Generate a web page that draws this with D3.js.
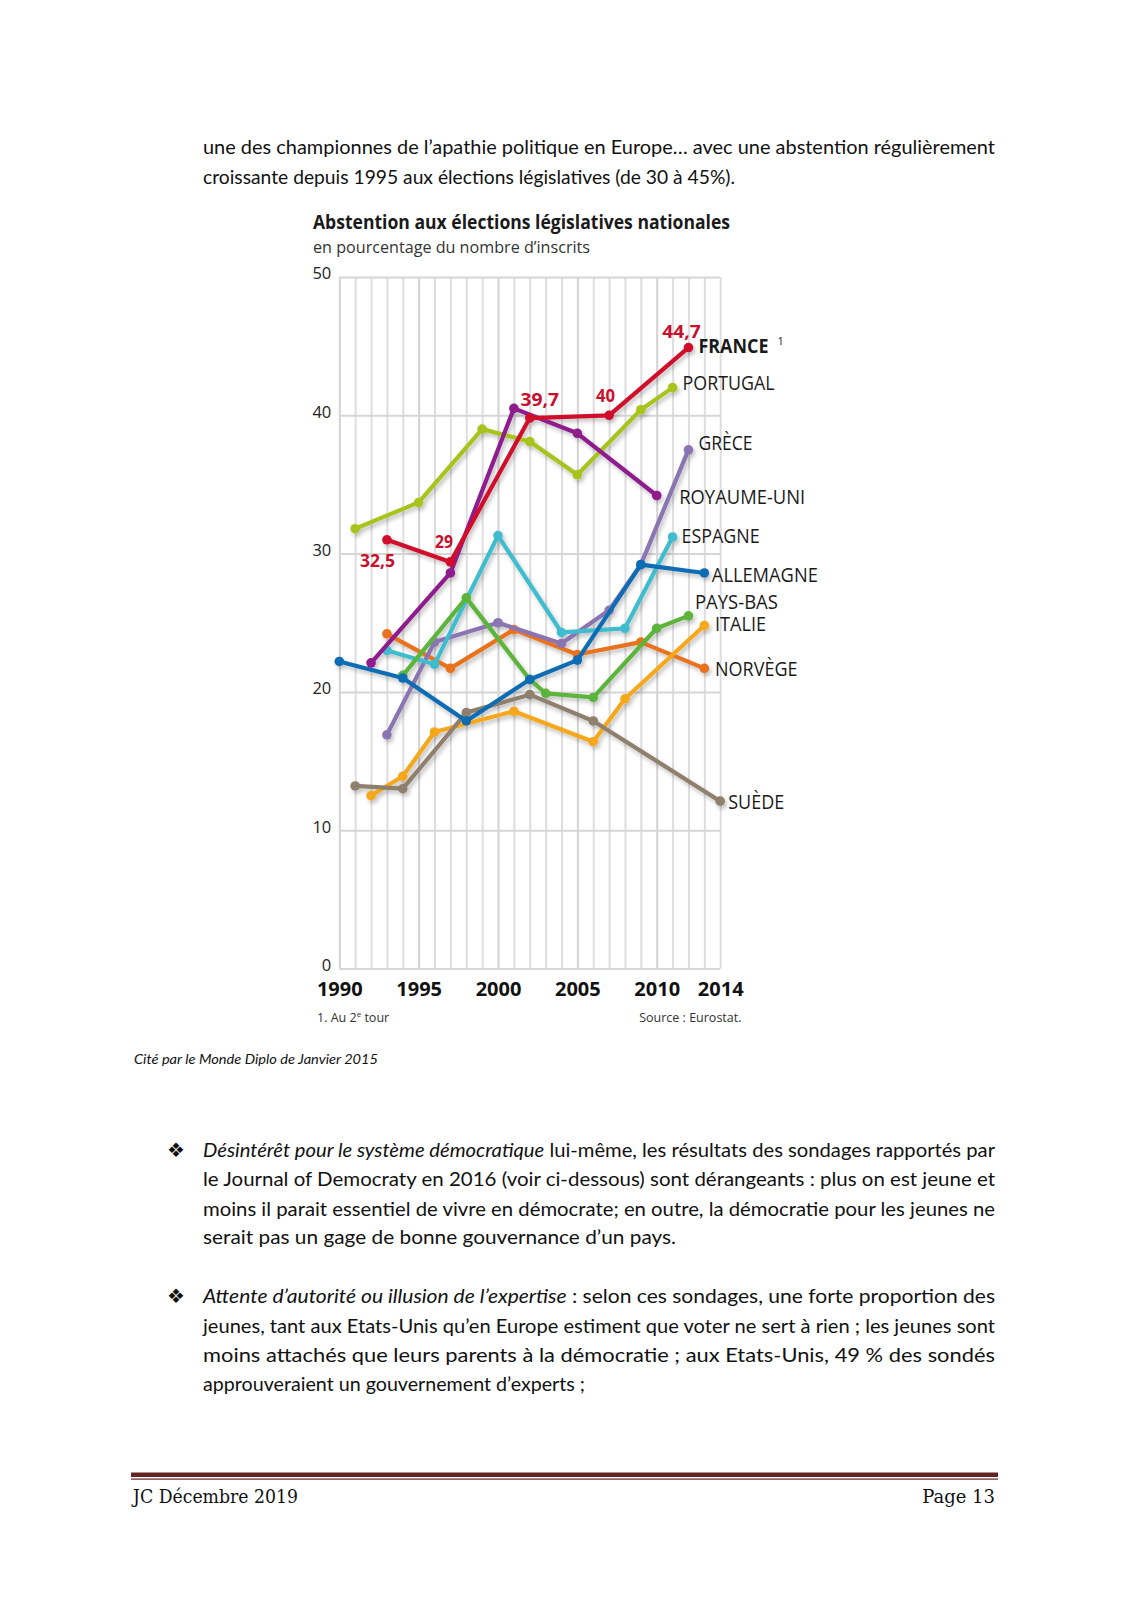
<!DOCTYPE html>
<html lang="fr">
<head>
<meta charset="utf-8">
<script src="https://cdn.jsdelivr.net/npm/d3@7"></script>
<style>
  html, body { margin: 0; padding: 0; background: #fff; }
  svg { display: block; }
</style>
</head>
<body>
<svg id="page" width="1131" height="1600"></svg>
<script>
// ---------------- DATA ----------------
const countries = ["NORVÈGE", "GRÈCE", "ESPAGNE", "PORTUGAL", "ITALIE", "SUÈDE", "PAYS-BAS", "ALLEMAGNE", "ROYAUME-UNI", "FRANCE"];

const franceYears   = [1993, 1997, 2002, 2007, 2012];
const franceValues  = [31.0, 29.4, 39.8, 40.0, 44.9];
const franceLabels  = ["32,5", "29", "39,7", "40", "44,7"];

const portugalYears  = [1991, 1995, 1999, 2002, 2005, 2009, 2011];
const portugalValues = [31.8, 33.7, 39.0, 38.1, 35.7, 40.4, 42.0];

const ukYears  = [1992, 1997, 2001, 2005, 2010];
const ukValues = [22.1, 28.6, 40.5, 38.7, 34.2];

const greeceYears  = [1993, 1996, 2000, 2004, 2007, 2009, 2012];
const greeceValues = [16.9, 23.6, 25.0, 23.5, 25.9, 29.2, 37.5];

const spainYears  = [1993, 1996, 2000, 2004, 2008, 2011];
const spainValues = [23.0, 22.0, 31.3, 24.3, 24.6, 31.2];

const germanyYears  = [1990, 1994, 1998, 2002, 2005, 2009, 2013];
const germanyValues = [22.2, 21.0, 17.9, 20.9, 22.3, 29.2, 28.6];

const netherlandsYears  = [1994, 1998, 2002, 2003, 2006, 2010, 2012];
const netherlandsValues = [21.2, 26.8, 20.9, 19.9, 19.6, 24.6, 25.5];

const italyYears  = [1992, 1994, 1996, 2001, 2006, 2008, 2013];
const italyValues = [12.5, 13.9, 17.1, 18.6, 16.4, 19.5, 24.8];

const norwayYears  = [1993, 1997, 2001, 2005, 2009, 2013];
const norwayValues = [24.2, 21.7, 24.5, 22.7, 23.6, 21.7];

const swedenYears  = [1991, 1994, 1998, 2002, 2006, 2014];
const swedenValues = [13.2, 13.0, 18.5, 19.8, 17.9, 12.1];

const xTickLabels = [1990, 1995, 2000, 2005, 2010, 2014];
const yTickLabels = [0, 10, 20, 30, 40, 50];

// ---------------- STYLE / LAYOUT ----------------
const seriesYears = {
  "FRANCE": franceYears, "PORTUGAL": portugalYears, "ROYAUME-UNI": ukYears, "GRÈCE": greeceYears,
  "ESPAGNE": spainYears, "ALLEMAGNE": germanyYears, "PAYS-BAS": netherlandsYears, "ITALIE": italyYears,
  "NORVÈGE": norwayYears, "SUÈDE": swedenYears
};
const seriesValues = {
  "FRANCE": franceValues, "PORTUGAL": portugalValues, "ROYAUME-UNI": ukValues, "GRÈCE": greeceValues,
  "ESPAGNE": spainValues, "ALLEMAGNE": germanyValues, "PAYS-BAS": netherlandsValues, "ITALIE": italyValues,
  "NORVÈGE": norwayValues, "SUÈDE": swedenValues
};
const colors = {
  "FRANCE": "#d0112b", "PORTUGAL": "#a8c41f", "ROYAUME-UNI": "#8e1b8c", "GRÈCE": "#8a74b2",
  "ESPAGNE": "#40bccf", "ALLEMAGNE": "#0b6cb3", "PAYS-BAS": "#5db43c", "ITALIE": "#f6a81c",
  "NORVÈGE": "#e8731f", "SUÈDE": "#8f7f6d"
};
// label placement relative to the last point: [dx, dy(baseline), width]
const labelPos = {
  "FRANCE": [10, 5, 70], "PORTUGAL": [10, 2.5, 92], "GRÈCE": [10, 0, 54], "ROYAUME-UNI": [22.5, 8.5, 126],
  "ESPAGNE": [9, 6, 78], "ALLEMAGNE": [7.5, 8.7, 106], "PAYS-BAS": [6.5, -6.5, 83], "ITALIE": [10.7, 5.5, 51],
  "NORVÈGE": [10.7, 7.6, 82.5], "SUÈDE": [8, 8, 56]
};
// value labels offsets for France: [dx(center), dy(baseline), width]
const franceLabelPos = [[-9.4, 27, 35], [-6.4, -14, 18], [10, -12, 38.5], [-3.6, -13, 19], [-7, -10, 38.5]];

const svg = d3.select("#page");
svg.append("rect").attr("width", 1131).attr("height", 1600).attr("fill", "#fff");

const defs = svg.append("defs");
const f = defs.append("filter").attr("id", "shadow").attr("x", "-10%").attr("y", "-10%").attr("width", "130%").attr("height", "130%");
f.append("feDropShadow").attr("dx", 2).attr("dy", 3).attr("stdDeviation", 2.2)
  .attr("flood-color", "#000").attr("flood-opacity", 0.25);

// ---------------- BODY TEXT ----------------
const bodyFont = "Lato, 'Open Sans', sans-serif";
function textLine(x, y, width, segments, size) {
  const t = svg.append("text").attr("x", x).attr("y", y)
    .attr("font-family", bodyFont).attr("font-size", size || 19).attr("fill", "#111");
  if (width) t.attr("textLength", width).attr("lengthAdjust", "spacingAndGlyphs");
  segments.forEach(s => {
    const ts = t.append("tspan").text(s[0]);
    if (s[1]) ts.attr("font-style", "italic");
  });
  return t;
}
textLine(203, 154, 792, [["une des championnes de l’apathie politique en Europe… avec une abstention régulièrement"]]);
textLine(203, 183.5, 532, [["croissante depuis 1995 aux élections législatives (de 30 à 45%)."]]);

svg.append("text").attr("x", 134).attr("y", 1064).attr("font-family", bodyFont).attr("font-size", 14)
  .attr("font-style", "italic").attr("fill", "#111").attr("textLength", 244).attr("lengthAdjust", "spacingAndGlyphs")
  .text("Cité par le Monde Diplo de Janvier 2015");

function bullet(y) {
  svg.append("text").attr("x", 176).attr("y", y).attr("text-anchor", "middle")
    .attr("font-family", "'DejaVu Sans', sans-serif").attr("font-size", 20).attr("fill", "#111").text("❖");
}
bullet(1157);
textLine(203, 1156.5, 792, [["Désintérêt pour le système démocratique", true], [" lui-même, les résultats des sondages rapportés par"]]);
textLine(203, 1186, 792, [["le Journal of Democraty en 2016 (voir ci-dessous) sont dérangeants : plus on est jeune et"]]);
textLine(203, 1215.5, 792, [["moins il parait essentiel de vivre en démocrate; en outre, la démocratie pour les jeunes ne"]]);
textLine(203, 1244, 473, [["serait pas un gage de bonne gouvernance d’un pays."]]);

bullet(1303);
textLine(203, 1302.5, 792, [["Attente d’autorité ou illusion de l’expertise", true], [" : selon ces sondages, une forte proportion des"]]);
textLine(203, 1333, 792, [["jeunes, tant aux Etats-Unis qu’en Europe estiment que voter ne sert à rien ; les jeunes sont"]]);
textLine(203, 1361.5, 792, [["moins attachés que leurs parents à la démocratie ; aux Etats-Unis, 49 % des sondés"]]);
textLine(203, 1391, 382, [["approuveraient un gouvernement d’experts ;"]]);

// footer
svg.append("rect").attr("x", 131).attr("y", 1472.5).attr("width", 867).attr("height", 4.5).attr("fill", "#622423");
svg.append("rect").attr("x", 131).attr("y", 1478.5).attr("width", 867).attr("height", 1.2).attr("fill", "#622423");
svg.append("text").attr("x", 133).attr("y", 1503).attr("font-family", "'DejaVu Serif', 'Liberation Serif', serif")
  .attr("font-size", 18).attr("fill", "#111").attr("textLength", 165).attr("lengthAdjust", "spacingAndGlyphs").text("JC Décembre 2019");
svg.append("text").attr("x", 995).attr("y", 1503).attr("text-anchor", "end").attr("font-family", "'DejaVu Serif', 'Liberation Serif', serif")
  .attr("font-size", 18).attr("fill", "#111").text("Page 13");

// ---------------- CHART ----------------
const chartFont = "'Open Sans', 'Noto Sans', sans-serif";
const x = d3.scaleLinear().domain([1990, 2014]).range([339.3, 720.2]);
const y = d3.scaleLinear().domain([0, 50]).range([968.5, 277]);

// title
svg.append("text").attr("x", 313).attr("y", 229).attr("font-family", chartFont).attr("font-weight", 700)
  .attr("font-size", 20).attr("fill", "#1a1a1a").attr("textLength", 417).attr("lengthAdjust", "spacingAndGlyphs")
  .text("Abstention aux élections législatives nationales");
svg.append("text").attr("x", 313).attr("y", 253).attr("font-family", chartFont)
  .attr("font-size", 17).attr("fill", "#333").attr("textLength", 277).attr("lengthAdjust", "spacingAndGlyphs")
  .text("en pourcentage du nombre d’inscrits");

// grid: vertical lines (every year)
const allYears = d3.range(1990, 2015);
const gx = svg.append("g").attr("transform", `translate(0,${y(0)})`)
  .call(d3.axisBottom(x).tickValues(allYears).tickSize(-(y(0) - y(50))).tickFormat(""));
gx.select(".domain").remove();
gx.selectAll(".tick line").attr("stroke", d => d % 5 === 0 ? "#d2d2d2" : "#dedede").attr("stroke-width", 2);

// grid: horizontal lines + y labels
const gy = svg.append("g").attr("transform", `translate(${x(1990)},0)`)
  .call(d3.axisLeft(y).tickValues(yTickLabels).tickSize(-(x(2014) - x(1990))).tickPadding(8));
gy.select(".domain").remove();
gy.selectAll(".tick line").attr("stroke", "#d6d6d6").attr("stroke-width", 2);
gy.selectAll(".tick text").attr("font-family", chartFont).attr("font-size", 16.5).attr("fill", "#222")
  .attr("dy", "0.12em");

// x labels
const xa = svg.append("g").attr("transform", `translate(0,${y(0)})`)
  .call(d3.axisBottom(x).tickValues(xTickLabels).tickSize(0).tickPadding(12).tickFormat(d3.format("d")));
xa.select(".domain").remove();
xa.selectAll(".tick text").attr("font-family", chartFont).attr("font-weight", 700).attr("font-size", 20)
  .attr("fill", "#111").attr("dy", "0.78em");

// footnotes
const fn = svg.append("text").attr("x", 317).attr("y", 1022).attr("font-family", chartFont).attr("font-size", 12.5).attr("fill", "#333");
fn.append("tspan").text("1. Au 2");
fn.append("tspan").attr("font-size", 8).attr("dy", -5).text("e");
fn.append("tspan").attr("dy", 5).text(" tour");
svg.append("text").attr("x", 741.5).attr("y", 1022).attr("text-anchor", "end").attr("font-family", chartFont)
  .attr("font-size", 12.5).attr("fill", "#333").text("Source : Eurostat.");

// series
const line = d3.line().x(d => x(d[0])).y(d => y(d[1]));
const lg = svg.append("g").attr("filter", "url(#shadow)");
countries.forEach(c => {
  const pts = seriesYears[c].map((yr, i) => [yr, seriesValues[c][i]]);
  const g = lg.append("g");
  g.append("path").datum(pts).attr("d", line).attr("fill", "none").attr("stroke", colors[c])
    .attr("stroke-width", 4.2).attr("stroke-linejoin", "round").attr("stroke-linecap", "round");
  g.selectAll("circle").data(pts).join("circle")
    .attr("cx", d => x(d[0])).attr("cy", d => y(d[1])).attr("r", 4.8).attr("fill", colors[c]);
});

// country labels
countries.forEach(c => {
  const yrs = seriesYears[c], vals = seriesValues[c];
  const lx = x(yrs[yrs.length - 1]), ly = y(vals[vals.length - 1]);
  const p = labelPos[c];
  svg.append("text").attr("x", lx + p[0]).attr("y", ly + p[1]).attr("font-family", chartFont)
    .attr("font-size", 19.5).attr("fill", "#1a1a1a").attr("font-weight", c === "FRANCE" ? 700 : 400)
    .attr("textLength", p[2]).attr("lengthAdjust", "spacingAndGlyphs").text(c);
  if (c === "FRANCE") {
    svg.append("text").attr("x", lx + p[0] + p[2] + 9).attr("y", ly + p[1] - 8).attr("font-family", chartFont)
      .attr("font-size", 11).attr("fill", "#1a1a1a").text("1");
  }
});

// France value labels
svg.append("g").selectAll("text").data(franceYears.map((yr, i) => [yr, franceValues[i], franceLabels[i], franceLabelPos[i]]))
  .join("text")
  .attr("x", d => x(d[0]) + d[3][0]).attr("y", d => y(d[1]) + d[3][1])
  .attr("text-anchor", "middle").attr("font-family", chartFont).attr("font-weight", 700)
  .attr("font-size", 17.5).attr("fill", "#c8102e")
  .attr("textLength", d => d[3][2]).attr("lengthAdjust", "spacingAndGlyphs")
  .text(d => d[2]);
</script>
</body>
</html>
